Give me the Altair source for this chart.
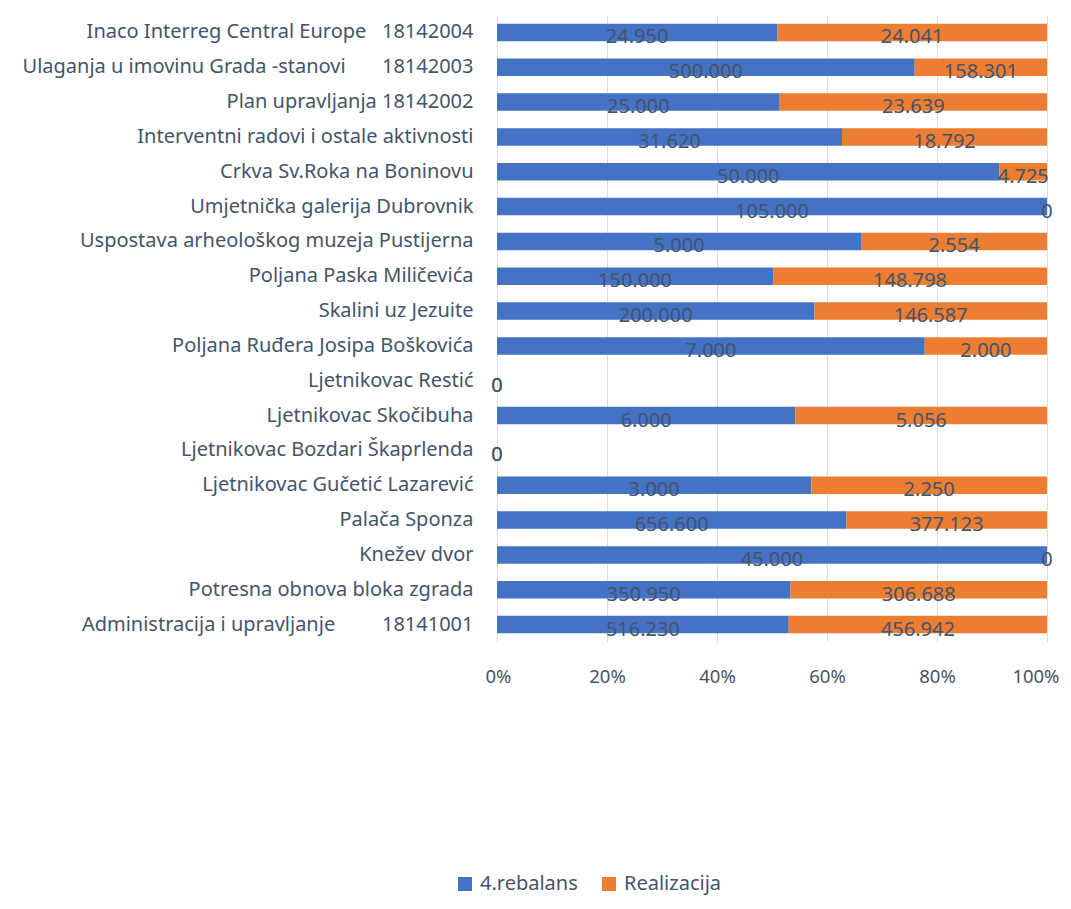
import altair as alt
import pandas as pd

NB = "\u00a0"
categories = [
    "Inaco Interreg Central Europe" + NB * 3 + "18142004",
    "Ulaganja u imovinu Grada -stanovi" + NB * 7 + "18142003",
    "Plan upravljanja 18142002",
    "Interventni radovi i ostale aktivnosti",
    "Crkva Sv.Roka na Boninovu",
    "Umjetnička galerija Dubrovnik",
    "Uspostava arheološkog muzeja Pustijerna",
    "Poljana Paska Miličevića",
    "Skalini uz Jezuite",
    "Poljana Ruđera Josipa Boškovića",
    "Ljetnikovac Restić",
    "Ljetnikovac Skočibuha",
    "Ljetnikovac Bozdari Škaprlenda",
    "Ljetnikovac Gučetić Lazarević",
    "Palača Sponza",
    "Knežev dvor",
    "Potresna obnova bloka zgrada",
    "Administracija i upravljanje" + NB * 9 + "18141001",
]
rebalans = [24950, 500000, 25000, 31620, 50000, 105000, 5000, 150000, 200000,
            7000, 0, 6000, 0, 3000, 656600, 45000, 350950, 516230]
realizacija = [24041, 158301, 23639, 18792, 4725, 0, 2554, 148798, 146587,
               2000, 0, 5056, 0, 2250, 377123, 0, 306688, 456942]
series = ["4.rebalans", "Realizacija"]
colors = ["#4472C4", "#ED7D31"]


def fmt(v):
    return f"{v:,}".replace(",", ".")


rows = []
for c, a, b in zip(categories, rebalans, realizacija):
    rows.append({"cat": c, "series": series[0], "order": 0, "value": a, "label": fmt(a)})
    rows.append({"cat": c, "series": series[1], "order": 1, "value": b, "label": fmt(b)})
df = pd.DataFrame(rows)

FONT = "Noto Sans"
TXT = "#44546A"

base = alt.Chart(df).transform_joinaggregate(
    total="sum(value)", groupby=["cat"]
).transform_window(
    cum="sum(value)", sort=[alt.SortField("order")], groupby=["cat"], frame=[None, 0]
).transform_calculate(
    x0="datum.total > 0 ? (datum.cum - datum.value) / datum.total : 0",
    x1="datum.total > 0 ? datum.cum / datum.total : 0",
).transform_calculate(
    mid="(datum.x0 + datum.x1) / 2"
)

yenc = alt.Y(
    "cat:N", sort=categories, title=None,
    scale=alt.Scale(paddingInner=0.5, paddingOuter=0.25),
    axis=alt.Axis(labelFont=FONT, labelFontSize=20, labelColor=TXT,
                  labelPadding=24, ticks=False, domain=False, labelLimit=600),
)

bars = base.mark_bar(size=17.5).encode(
    x=alt.X("x0:Q", title=None,
            scale=alt.Scale(domain=[0, 1], nice=False),
            axis=alt.Axis(format="%", values=[0, 0.2, 0.4, 0.6, 0.8, 1.0],
                          labelFont=FONT, labelFontSize=18.5, labelColor=TXT,
                          labelPadding=25, labelFlush=True, labelFlushOffset=12,
                          ticks=False, domain=False,
                          grid=True, gridColor="#DADDE3", gridWidth=1)),
    x2="x1:Q",
    y=yenc,
    color=alt.Color("series:N", scale=alt.Scale(domain=series, range=colors),
                    legend=alt.Legend(title=None, orient="none", direction="horizontal",
                                      legendX=-42, legendY=859,
                                      labelFont=FONT, labelFontSize=20, labelColor=TXT,
                                      symbolType="square", symbolSize=196,
                                      symbolStrokeWidth=0, columnPadding=21,
                                      labelOffset=5)),
)

labels = base.mark_text(font=FONT, fontSize=20, color=TXT, dy=5,
                        baseline="middle").encode(
    x="mid:Q",
    y=alt.Y("cat:N", sort=categories),
    text="label:N",
)

chart = alt.layer(bars, labels).properties(
    width=550, height=627,
    autosize=alt.AutoSizeParams(type="none"),
    padding={"left": 489, "top": 7, "right": 16, "bottom": 254},
).configure_view(stroke=None)

chart.save("out.html", embed_options={"renderer": "svg", "actions": False})
